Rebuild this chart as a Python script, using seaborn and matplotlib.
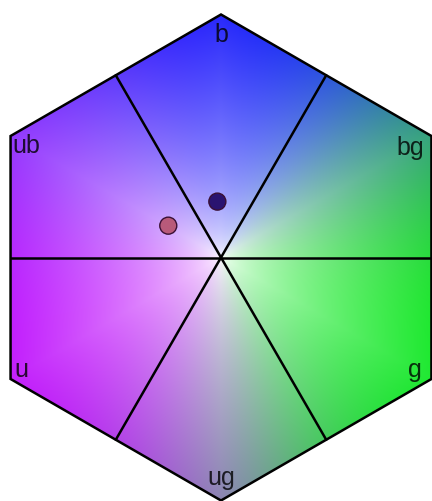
import numpy as np
import pandas as pd
import seaborn as sns
import matplotlib.pyplot as plt
from matplotlib.patches import Polygon

sns.set_style("white")
plt.rcParams['font.family'] = ['Liberation Sans', 'DejaVu Sans']

# Colour anchors around the hexagon (angle in degrees -> RGB), vertices and sector edges
anchor_angles = [-150, -120, -90, -60, -30, 0, 30, 60, 90, 120, 150, 180]
anchor_colors = [
    (200, 20, 255),   # u
    (185, 60, 240),
    (150, 130, 190),  # ug
    (60, 215, 80),
    (20, 240, 40),    # g
    (40, 230, 50),
    (60, 170, 110),   # bg
    (50, 80, 245),
    (20, 20, 255),    # b
    (100, 70, 250),
    (150, 60, 255),   # ub
    (190, 40, 255),
]

# Vertex labels
labels = ['b', 'bg', 'g', 'ug', 'u', 'ub']
label_x = [0.0, 0.836, 0.826, 0.0, -0.852, -0.858]
label_y = [0.887, 0.422, -0.492, -0.936, -0.492, 0.430]
label_ha = ['center', 'right', 'right', 'center', 'left', 'left']

# The two points
points = pd.DataFrame({
    'x': [-0.015, -0.217],
    'y': [0.230, 0.131],
    'name': ['p1', 'p2'],
})
point_colors = ['#2a1470', '#b85a7a']

# Hexagon (pointy top, unit circumradius)
vert_ang = np.deg2rad([90, 30, -30, -90, -150, 150])
hex_x = np.cos(vert_ang)
hex_y = np.sin(vert_ang)

fig = plt.figure(figsize=(4.32, 5.01), dpi=100)
ax = fig.add_axes([0, 0, 1, 1])

# Colour field: smooth angular blend of anchors, faded to white at the centre
xs = np.linspace(-0.92, 0.92, 500)
ys = np.linspace(-1.02, 1.02, 560)
X, Y = np.meshgrid(xs, ys)
theta = np.arctan2(Y, X)
cols = np.array(anchor_colors, dtype=float) / 255
w = np.stack([np.exp(9 * np.cos(theta - np.deg2rad(a))) for a in anchor_angles], axis=-1)
w /= w.sum(axis=-1, keepdims=True)
rgb = w @ cols
normals = np.deg2rad([0, 60, 120, 180, 240, 300])
apothem = np.sqrt(3) / 2
d = np.max([X * np.cos(a) + Y * np.sin(a) for a in normals], axis=0) / apothem
t = np.clip(d, 0, 1) ** 0.6
img = np.clip((1 - t[..., None]) + t[..., None] * rgb, 0, 1)

hexagon = Polygon(np.column_stack([hex_x, hex_y]), closed=True, facecolor='none',
                  edgecolor='black', lw=1.8, zorder=3)
im = ax.imshow(img, origin='lower', extent=[xs[0], xs[-1], ys[0], ys[-1]],
               interpolation='bilinear', zorder=1)
ax.add_patch(hexagon)
im.set_clip_path(hexagon)

# Sector lines through the centre (edge midpoint to edge midpoint)
for a in [0, 60, 120]:
    r = np.deg2rad(a)
    ax.plot([-apothem * np.cos(r), apothem * np.cos(r)],
            [-apothem * np.sin(r), apothem * np.sin(r)],
            color='black', lw=1.8, zorder=2)

sns.scatterplot(data=points, x='x', y='y', hue='name', palette=point_colors,
                s=150, edgecolor='#3a1035', linewidth=1.0, legend=False, ax=ax, zorder=4)

for lab, lx, ly, ha in zip(labels, label_x, label_y, label_ha):
    ax.text(lx, ly, lab, ha=ha, va='baseline', fontsize=18, color='black',
            alpha=0.8, zorder=5)

ax.set_xlim(-221 / 243, 211 / 243)
ax.set_ylim(-243.5 / 243, 257.5 / 243)
ax.set_aspect('auto')
ax.axis('off')

fig.savefig('out.png', dpi=100)
